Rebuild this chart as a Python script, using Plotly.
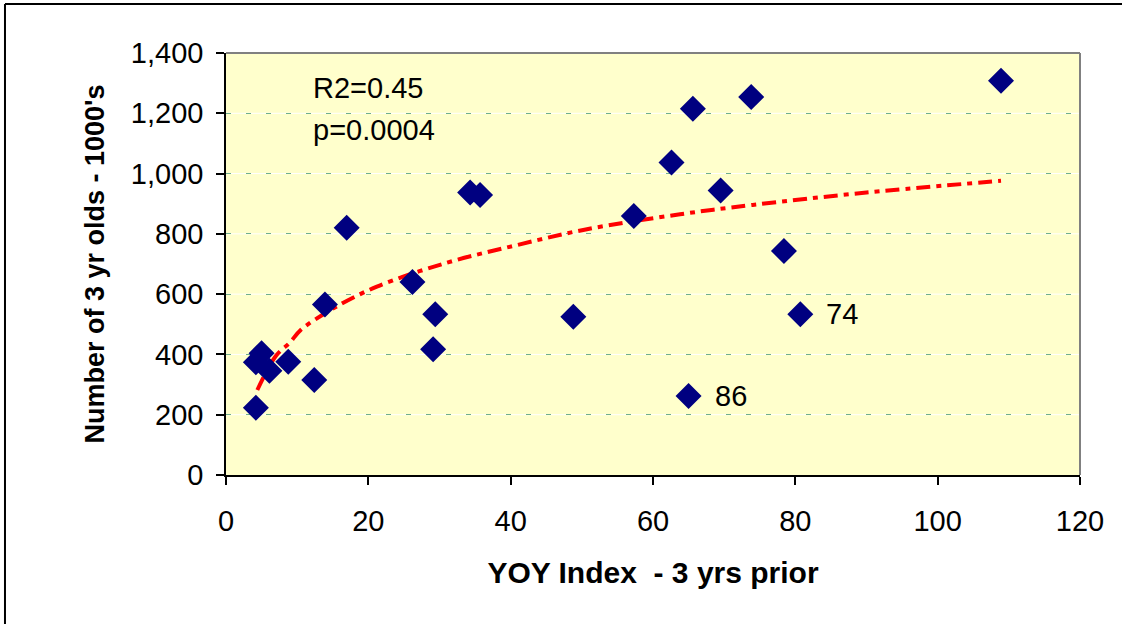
import plotly.graph_objects as go

# ---- data ----
yoy_index = [4.2, 4.2, 5.0, 6.1, 8.75, 12.4, 13.9, 16.96, 26.2, 29.1, 29.4, 34.3, 35.7,
             48.8, 57.3, 62.6, 65.0, 65.6, 69.5, 73.8, 78.4, 80.7, 108.9]
three_yr_olds = [223, 374, 404, 346, 376, 315, 566, 820, 640, 417, 533, 937, 929,
                 525, 859, 1037, 262, 1215, 944, 1254, 743, 533, 1308]

trend_x = [4.4, 7.0, 9.0, 10.5, 15.1, 21.2, 31.0, 40.4, 50.2, 63.8, 74.0, 90.0, 108.9]
trend_y = [282, 395, 440, 481, 553, 625, 704, 760, 813, 865, 896, 937, 976]

label_x = [80.7, 65.0]
label_y = [533, 262]
label_text = ["74", "86"]

stats_text = ["R2=0.45", "p=0.0004"]

x_ticks = [0, 20, 40, 60, 80, 100, 120]
y_ticks = [0, 200, 400, 600, 800, 1000, 1200, 1400]

FONT = "Liberation Sans, Arial, sans-serif"

fig = go.Figure()

fig.add_trace(go.Scatter(
    x=trend_x, y=trend_y, mode="lines",
    line=dict(color="#FF0000", width=4, dash="14px,6px,5px,6px", shape="spline"),
    hoverinfo="skip", showlegend=False,
))

fig.add_trace(go.Scatter(
    x=yoy_index, y=three_yr_olds, mode="markers",
    marker=dict(symbol="diamond", size=20, color="#000080", line=dict(width=0)),
    showlegend=False,
))

annotations = []
for lx, ly, lt in zip(label_x, label_y, label_text):
    annotations.append(dict(x=lx, y=ly, xref="x", yref="y", text=lt, showarrow=False,
                            xanchor="left", yanchor="middle", xshift=24,
                            font=dict(family=FONT, size=29, color="#000000")))

for i, t in enumerate(stats_text):
    annotations.append(dict(x=0.0995, y=0.917 - i * 0.1, xref="paper", yref="paper",
                            text=t, showarrow=False, xanchor="left", yanchor="middle",
                            font=dict(family=FONT, size=29, color="#000000")))

shapes = []
# white base lines under the dashed green gridlines
for v in y_ticks[1:-1]:
    shapes.append(dict(type="line", xref="paper", yref="y", x0=0, x1=1, y0=v, y1=v,
                       line=dict(color="#FFFFFF", width=1), layer="below"))
# plot area border (top / right in gray)
shapes.append(dict(type="line", xref="paper", yref="paper", x0=0, x1=1, y0=1, y1=1,
                   line=dict(color="#808080", width=2)))
shapes.append(dict(type="line", xref="paper", yref="paper", x0=1, x1=1, y0=0, y1=1,
                   line=dict(color="#808080", width=2)))
# outer chart frame (left and top visible)
shapes.append(dict(type="line", xref="paper", yref="paper", x0=-0.2588, x1=-0.2588,
                   y0=-0.36, y1=1.1161, line=dict(color="#000000", width=2)))
shapes.append(dict(type="line", xref="paper", yref="paper", x0=-0.2588, x1=1.06,
                   y0=1.1161, y1=1.1161, line=dict(color="#000000", width=2)))

fig.update_layout(
    width=1122, height=624,
    margin=dict(l=226, r=42, t=53, b=149),
    paper_bgcolor="#FFFFFF",
    plot_bgcolor="#FFFFCC",
    font=dict(family=FONT, size=29, color="#000000"),
    annotations=annotations,
    shapes=shapes,
    xaxis=dict(
        range=[0, 120], tickvals=x_ticks, ticktext=[str(v) for v in x_ticks],
        showgrid=False, zeroline=False,
        showline=True, linecolor="#000000", linewidth=1.5,
        ticks="outside", ticklen=8, tickcolor="#000000", tickwidth=1.5,
        ticklabelstandoff=11,
        tickfont=dict(family=FONT, size=29, color="#000000"),
        title=dict(text="<b>YOY Index  - 3 yrs prior</b>", standoff=26,
                   font=dict(family=FONT, size=30, color="#000000")),
    ),
    yaxis=dict(
        range=[0, 1400], tickvals=y_ticks, ticktext=[f"{v:,}" for v in y_ticks],
        showgrid=True, gridcolor="#6FAE8E", gridwidth=1, griddash="5px,15px",
        zeroline=False,
        showline=True, linecolor="#000000", linewidth=1.5,
        ticks="outside", ticklen=8, tickcolor="#000000", tickwidth=1.5,
        ticklabelstandoff=7,
        tickfont=dict(family=FONT, size=29, color="#000000"),
        title=dict(text="<b>Number of 3 yr olds - 1000's</b>", standoff=18,
                   font=dict(family=FONT, size=27, color="#000000")),
    ),
)

# remove the default page margin so the figure sits at the window's top-left corner
fig.write_html("out.html",
               config={"displayModeBar": False},
               post_script="document.body.style.margin='0';document.body.style.overflow='hidden';")
